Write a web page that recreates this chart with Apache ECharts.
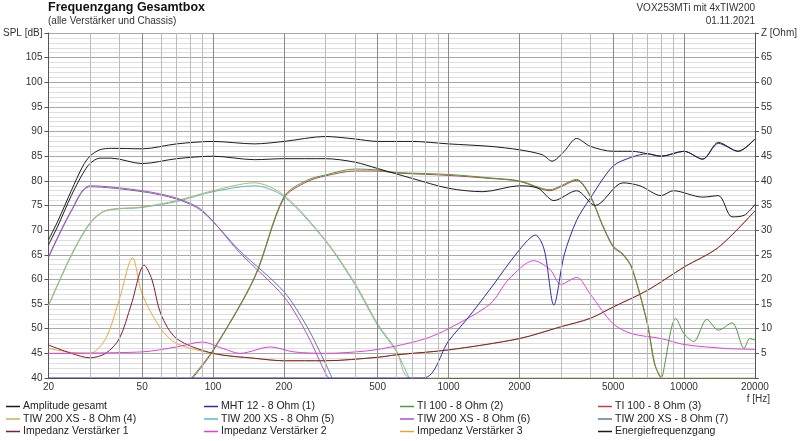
<!DOCTYPE html>
<html>
<head>
<meta charset="utf-8">
<script src="https://cdn.jsdelivr.net/npm/echarts@6/dist/echarts.min.js"></script>
<style>
  html, body { margin: 0; padding: 0; background: #fff; }
  #main { width: 800px; height: 441px; }
</style>
</head>
<body>
<div id="main"></div>
<script>
// Frequenz-Rasterlinien und beschriftete Frequenzen
var gridFreqs = [30, 40, 50, 60, 70, 80, 90, 100, 200, 300, 400, 500, 600, 700, 800, 900,
  1000, 2000, 3000, 4000, 5000, 6000, 7000, 8000, 9000, 10000];
var labelFreqs = [20, 50, 100, 200, 500, 1000, 2000, 5000, 10000, 20000];

// SPL-Kurven [Hz, dB]
var energie = [[20,68],[22,72],[25,78],[28,83],[30,85],[33,86.3],[37,86.6],[50,86.5],[70,87.5],[100,88],[150,87.5],[200,88],
  [300,89],[400,88.5],[500,88],[700,88],[1000,87.5],[1500,87],[2000,86.3],[2500,85.3],[2750,84],
  [3100,86],[3500,88.6],[4000,87],[5000,86],[6000,86],[7000,85.5],[8000,85],[10000,86],
  [12000,84.4],[14000,87.8],[17000,86],[20000,88.5]];
var amplitude = [[20,67],[22,71],[25,77],[28,81.5],[30,83.5],[33,84.6],[37,84.6],[50,83.5],[70,84.5],[100,85],[150,84.3],
  [200,84.5],[300,84.5],[400,83.8],[500,82.5],[700,80.5],[1000,78.5],[1400,77.8],[2000,79],
  [2400,78.5],[2800,76],[3500,78],[4200,75],[5500,79.6],[6500,79],[8000,77],[9000,78],
  [12000,76.7],[14000,77],[16000,72.7],[18000,73],[20000,75.2]];
var mht12 = [[20,40],[780,40],[1000,47.5],[1200,52],[1500,58],[2000,66],[2340,69],[2550,66],
  [2800,54.8],[3100,65],[3500,72],[4000,76.5],[5000,83],[6000,84.8],[7000,85.5],[8000,85],
  [10000,86],[12000,84.4],[14000,87.6],[17000,86],[20000,88.5]];
var ti100a = [[81,40],[100,45.7],[150,60.5],[200,76.8],[250,80.1],[300,81.2],[400,82.4],[500,82.2],
  [600,81.7],[1000,81.3],[1500,80.6],[2000,80],[2700,78.2],[3000,79],[3500,80.3],[4000,77],
  [4500,71.2],[5000,66.8],[5500,65.2],[6000,62.5],[7000,51],[7500,43],[8000,40],[8300,43],
  [8800,49.7],[9200,52.1],[10000,49],[11000,47.4],[12500,51.9],[14000,49.7],[16000,51.2],
  [18000,46],[19000,48],[20000,47.7]];
var ti100b = [[82,40],[100,45.5],[150,60.3],[200,76.5],[250,79.8],[300,81],[400,82],[500,82],
  [600,81.6],[1000,81.1],[1500,80.5],[2000,79.9],[2700,78],[3000,78.8],[3500,80.1],[4000,76.8],
  [4500,71],[5000,66.6],[5500,65],[6000,62.3],[7000,50.8],[7500,42.8],[8000,40]];
var tiw4 = [[20,54.8],[25,65],[30,71.5],[35,74],[50,74.7],[70,76],[100,78],[150,79.6],[200,77.1],
  [300,68],[400,59.3],[500,51],[600,45.7],[690,40],[20000,40]];
var tiw5 = [[20,54.6],[25,64.8],[30,71.3],[35,73.9],[50,74.6],[70,75.8],[100,77.8],[150,79],
  [200,76.8],[300,67.8],[400,59],[500,50.7],[600,45.4],[680,40]];
var tiw6 = [[20,64.6],[25,74],[30,79],[50,78],[70,76.5],[90,74],[130,65.4],[200,56.5],[250,49],
  [300,41],[310,40]];
var tiw7 = [[20,64.4],[25,73.8],[30,78.8],[50,77.8],[70,76.3],[90,73.8],[130,65.8],[200,57.5],
  [250,50.5],[300,43],[320,40]];

// Impedanzkurven [Hz, Ohm]
var impedanz1 = [[20,6.7],[25,5],[30,4.1],[35,5],[40,8],[45,15],[51,22.9],[55,20],[60,13],[70,8],
  [100,5],[150,4],[200,3.5],[300,3.5],[500,4.2],[600,4.7],[1000,5.7],[2000,8],[3000,10.4],
  [4000,12.1],[5000,14.4],[7000,17.8],[10000,22.5],[14000,26.5],[20000,33.9]];
var impedanz2 = [[20,5],[50,5.3],[70,6.3],[90,7.3],[110,6],[130,5],[175,6.3],[220,5.3],[300,5],
  [450,5.5],[600,6.5],[800,8],[1000,10],[1500,15],[1800,20],[2300,23.8],[2700,22],[3000,19],
  [3500,20.4],[4000,17],[5000,11],[6000,9],[8000,8],[10000,6.8],[15000,6],[20000,5.8]];
var impedanz3 = [[20,6],[25,5.2],[30,5],[35,8],[40,16],[45.5,24.4],[50,17],[60,10],[70,7],
  [100,5],[150,4],[200,3.5],[300,3.5],[500,4.2],[600,4.7],[1000,5.7],[2000,8],[3000,10.4],
  [4000,12.1],[5000,14.4],[7000,17.8],[10000,22.5],[14000,26.5],[20000,33.9]];

var chart = echarts.init(document.getElementById('main'));

function curve(name, data, color, yIdx) {
  return {
    name: name, type: 'line', data: data, yAxisIndex: yIdx || 0,
    smooth: 0.3, symbol: 'none', color: color,
    lineStyle: { width: 1, color: color }, itemStyle: { color: color }, z: 3
  };
}

var gridLines = gridFreqs.map(function (f) {
  var major = labelFreqs.indexOf(f) >= 0;
  return { xAxis: f, lineStyle: { color: major ? '#8a8a8a' : '#bcbcbc', width: 1, type: 'solid' } };
});
var labelLines = labelFreqs.map(function (f) {
  return { xAxis: f };
});

var legendCols = [
  ['Amplitude gesamt', 'TIW 200 XS - 8 Ohm (4)', 'Impedanz Verstärker 1'],
  ['MHT 12 - 8 Ohm (1)', 'TIW 200 XS - 8 Ohm (5)', 'Impedanz Verstärker 2'],
  ['TI 100 - 8 Ohm (2)', 'TIW 200 XS - 8 Ohm (6)', 'Impedanz Verstärker 3'],
  ['TI 100 - 8 Ohm (3)', 'TIW 200 XS - 8 Ohm (7)', 'Energiefrequenzgang']
];
var legendX = [6, 204, 400, 598];

var option = {
  animation: false,
  textStyle: { fontFamily: 'Liberation Sans, Arial, sans-serif' },
  grid: { left: 48, right: 45, top: 33, bottom: 63 },
  legend: legendCols.map(function (col, i) {
    return {
      data: col, orient: 'vertical', left: legendX[i], top: 401, itemGap: 1.5,
      icon: 'rect', itemWidth: 14, itemHeight: 1.5,
      textStyle: { fontSize: 10.5, color: '#222', padding: [0, 0, 0, -2] },
      padding: 0, selectedMode: false
    };
  }),
  graphic: [
    { type: 'text', left: 48, top: 1, style: { text: 'Frequenzgang Gesamtbox', font: 'bold 12.5px Liberation Sans, Arial', fill: '#111' } },
    { type: 'text', left: 48, top: 16, style: { text: '(alle Verstärker und Chassis)', font: '10px Liberation Sans, Arial', fill: '#333' } },
    { type: 'text', right: 45, top: 3, style: { text: 'VOX253MTi mit 4xTIW200', font: '10px Liberation Sans, Arial', fill: '#333' } },
    { type: 'text', right: 45, top: 16, style: { text: '01.11.2021', font: '10px Liberation Sans, Arial', fill: '#333' } },
    { type: 'text', right: 30, top: 394, style: { text: 'f [Hz]', font: '10px Liberation Sans, Arial', fill: '#333' } }
  ],
  xAxis: {
    type: 'log', logBase: 10, min: 20, max: 20000,
    axisLine: { show: true, lineStyle: { color: '#555' } },
    axisTick: { show: false }, axisLabel: { show: false }, splitLine: { show: false }
  },
  yAxis: [{
    type: 'value', min: 40, max: 110, interval: 5,
    axisLine: { show: true, lineStyle: { color: '#555' } },
    axisTick: { show: true, length: 4, lineStyle: { color: '#555' } },
    axisLabel: { color: '#333', fontSize: 10, margin: 6,
      formatter: function (v) { return v === 110 ? 'SPL [dB]' : v; } },
    splitLine: { show: true, lineStyle: { color: '#a8a8a8' } },
    minorTick: { show: false, splitNumber: 5 },
    minorSplitLine: { show: true, lineStyle: { color: '#dedede' } }
  }, {
    type: 'value', min: 0, max: 70, interval: 5,
    axisLine: { show: true, lineStyle: { color: '#555' } },
    axisTick: { show: true, length: 4, lineStyle: { color: '#555' } },
    axisLabel: { color: '#333', fontSize: 10, margin: 6,
      formatter: function (v) { return v === 70 ? 'Z [Ohm]' : (v === 0 ? '' : v); } },
    splitLine: { show: false }
  }],
  series: [
    {
      type: 'line', data: [], silent: true, z: 1,
      markLine: { silent: true, symbol: 'none', label: { show: false }, data: gridLines }
    },
    {
      type: 'line', data: [], silent: true, z: 1,
      markLine: {
        silent: true, symbol: 'none', data: labelLines,
        lineStyle: { color: 'rgba(0,0,0,0)', width: 0 },
        label: { show: true, position: 'start', distance: 4, color: '#333', fontSize: 10,
          formatter: function (p) { return String(p.value); } }
      }
    },
    curve('TIW 200 XS - 8 Ohm (5)', tiw5, '#5ab8d0'),
    curve('TIW 200 XS - 8 Ohm (4)', tiw4, '#b8b860'),
    curve('TIW 200 XS - 8 Ohm (7)', tiw7, '#607a9c'),
    curve('TIW 200 XS - 8 Ohm (6)', tiw6, '#b050c8'),
    curve('TI 100 - 8 Ohm (3)', ti100b, '#c04040'),
    curve('TI 100 - 8 Ohm (2)', ti100a, '#4c9a40'),
    curve('Impedanz Verstärker 3', impedanz3, '#e8a838', 1),
    curve('Impedanz Verstärker 1', impedanz1, '#7a2038', 1),
    curve('Impedanz Verstärker 2', impedanz2, '#e040d8', 1),
    curve('MHT 12 - 8 Ohm (1)', mht12, '#2c2ca0'),
    curve('Amplitude gesamt', amplitude, '#1a1a1a'),
    curve('Energiefrequenzgang', energie, '#1a1a1a')
  ]
};
chart.setOption(option);
</script>
</body>
</html>
